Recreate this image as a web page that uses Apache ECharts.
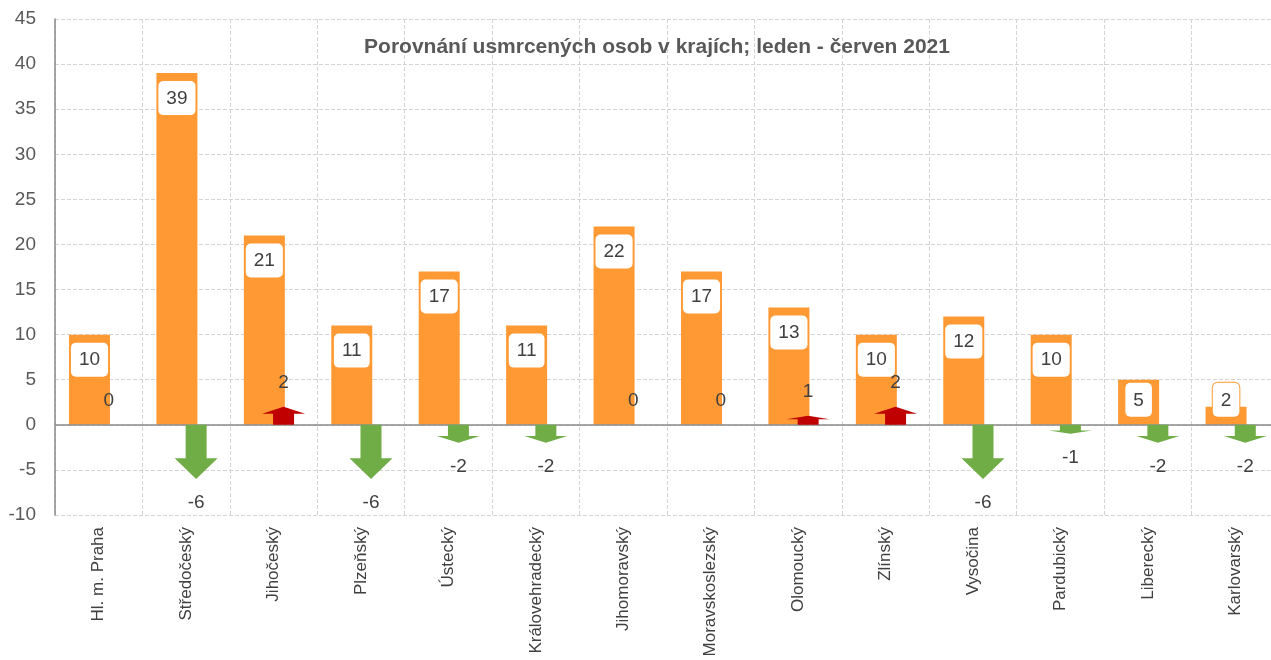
<!DOCTYPE html>
<html>
<head>
<meta charset="utf-8">
<script src="https://cdn.jsdelivr.net/npm/echarts@6/dist/echarts.min.js"></script>
<style>html,body{margin:0;padding:0;background:#fff}#c{width:1271px;height:660px}</style>
</head>
<body>
<div id="c"></div>
<script>
const titleText = 'Porovnání usmrcených osob v krajích; leden - červen 2021';
const categories = ['Hl. m. Praha','Středočeský','Jihočeský','Plzeňský','Ústecký','Královehradecký','Jihomoravský','Moravskoslezský','Olomoucký','Zlínský','Vysočina','Pardubický','Liberecký','Karlovarský'];
const killed = [10, 39, 21, 11, 17, 11, 22, 17, 13, 10, 12, 10, 5, 2];
const change = [0, -6, 2, -6, -2, -2, 0, 0, 1, 2, -6, -1, -2, -2];

const chart = echarts.init(document.getElementById('c'));
const font = 'Liberation Sans, Arial, sans-serif';
const txt = '#404040';

const barData = killed.map(v => v < 6
  ? { value: v, label: { position: 'insideBottom', distance: 8 } }
  : v);

chart.setOption({
  animation: false,
  textStyle: { fontFamily: font },
  title: {
    text: titleText, left: 652, top: 32, textAlign: 'center',
    textStyle: { fontFamily: font, fontSize: 21, fontWeight: 'bold', color: '#595959' }
  },
  grid: { left: 55, right: -8, top: 19, bottom: 145, outerBoundsMode: 'none', containLabel: false },
  xAxis: {
    type: 'category', data: categories,
    axisLine: { show: false }, axisTick: { show: false },
    axisLabel: { rotate: 90, fontSize: 17, color: txt, margin: 12, fontFamily: font, interval: 0 },
    splitLine: { show: true, interval: 0, lineStyle: { type: 'dashed', color: '#d4d4d4' } }
  },
  yAxis: {
    type: 'value', min: -10, max: 45, interval: 5,
    axisLine: { show: true, lineStyle: { color: '#8a8a8a', width: 1.5 } },
    axisTick: { show: false },
    axisLabel: { fontSize: 19, color: '#595959', margin: 19, fontFamily: font },
    splitLine: { lineStyle: { type: 'dashed', color: '#d4d4d4' } }
  },
  series: [
    {
      type: 'bar', data: barData, barWidth: 41, barGap: '-55%',
      itemStyle: { color: '#FF9933' },
      label: {
        show: true, position: 'insideTop', distance: 8,
        color: txt, fontSize: 19, lineHeight: 19, fontFamily: font,
        backgroundColor: '#fff', borderColor: '#FF9933', borderWidth: 1,
        borderRadius: 5, padding: [8, 8, 7, 8]
      },
      markLine: {
        silent: true, symbol: 'none', label: { show: false },
        lineStyle: { color: '#8a8a8a', type: 'solid', width: 1.5 },
        data: [{ yAxis: 0 }]
      },
      z: 2
    },
    {
      type: 'bar', data: change.map(() => 0), barWidth: 41,
      itemStyle: { color: 'rgba(0,0,0,0)' }, silent: true
    },
    {
      type: 'custom', data: change.map((v, i) => [i, v]), z: 5,
      renderItem: function (params, api) {
        const i = api.value(0), v = api.value(1);
        const p0 = api.coord([i, 0]);
        const p1 = api.coord([i, v]);
        const cx = p0[0] + 10;
        const y0 = p0[1], y1 = p1[1];
        const children = [];
        const len = y1 - y0;
        if (v !== 0) {
          const hw = 21.5, sw = 10.5;
          const yh = y0 + len * 0.62;
          children.push({
            type: 'polygon',
            shape: { points: [[cx - sw, y0], [cx + sw, y0], [cx + sw, yh], [cx + hw, yh], [cx, y1], [cx - hw, yh], [cx - sw, yh]] },
            style: { fill: v < 0 ? '#70AD47' : '#C00000' }
          });
        }
        const ly = v < 0 ? y1 + 24 : y1 - 24;
        children.push({
          type: 'text',
          style: { text: String(v), x: cx, y: ly, align: 'center', verticalAlign: 'middle', fill: txt, fontSize: 19, fontFamily: font }
        });
        return { type: 'group', children: children };
      }
    }
  ]
});
</script>
</body>
</html>
